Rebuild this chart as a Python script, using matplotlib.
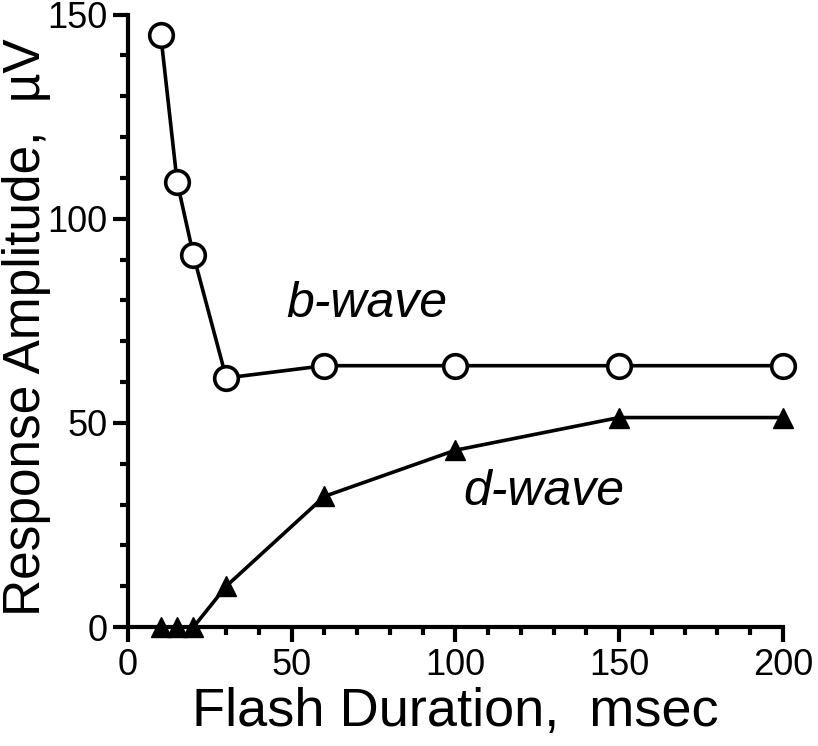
import matplotlib
matplotlib.use("Agg")
import matplotlib.pyplot as plt
from matplotlib.ticker import MultipleLocator

plt.rcParams['font.family'] = ['Liberation Sans', 'DejaVu Sans']

# flash duration (msec)
duration = [10, 15, 20, 30, 60, 100, 150, 200]
# response amplitudes (uV)
b_wave = [145, 109, 91, 61, 64, 64, 64, 64]
d_wave = [0, 0, 0, 10, 32, 43.3, 51.3, 51.3]

fig = plt.figure(figsize=(8.18, 7.46), dpi=100)
ax = fig.add_axes([0.1565, 0.1595, 0.8005, 0.821])

ax.plot(duration, b_wave, color='black', lw=2.6, marker='o', ms=17,
        mfc='white', mec='black', mew=2.6, clip_on=False, zorder=3)
ax.plot(duration, d_wave, color='black', lw=2.6, marker='^', ms=14,
        mfc='black', mec='black', clip_on=False, zorder=3)

ax.text(73, 79, 'b-wave', style='italic', fontsize=36, ha='center', va='center')
ax.text(127, 33, 'd-wave', style='italic', fontsize=36, ha='center', va='center')

ax.set_xlim(0, 200)
ax.set_ylim(0, 150)
ax.xaxis.set_major_locator(MultipleLocator(50))
ax.xaxis.set_minor_locator(MultipleLocator(10))
ax.yaxis.set_major_locator(MultipleLocator(50))
ax.yaxis.set_minor_locator(MultipleLocator(10))

for side in ('top', 'right'):
    ax.spines[side].set_visible(False)
for side in ('left', 'bottom'):
    ax.spines[side].set_linewidth(3)

ax.tick_params(which='major', length=11, width=3, labelsize=26, pad=4)
ax.tick_params(which='minor', length=6, width=3)

ax.set_xlabel('Flash Duration,  msec', fontsize=39)
ax.xaxis.set_label_coords(0.5, -0.098)
ax.set_ylabel('Response Amplitude,  µV', fontsize=37)
ax.yaxis.set_label_coords(-0.118, 0.49)

fig.savefig('out.png', dpi=100)
